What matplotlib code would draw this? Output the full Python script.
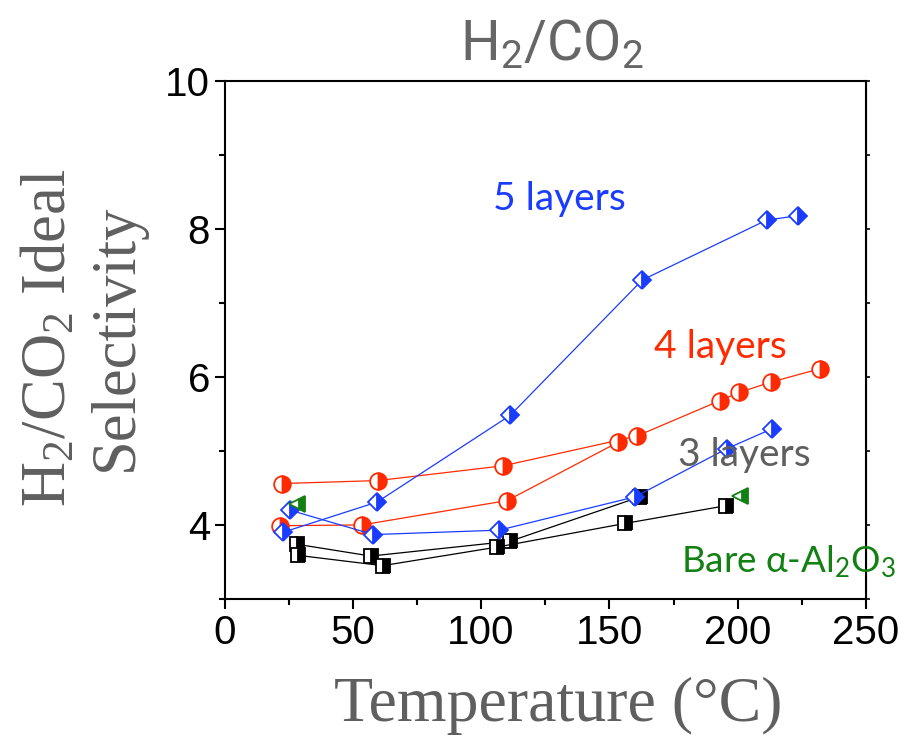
import matplotlib
matplotlib.use("Agg")
import matplotlib.pyplot as plt

plt.rcParams['mathtext.default'] = 'regular'

# 5 layers (blue diamonds), two runs
t5a = [22.7, 59.5, 111.3, 162.8, 211.3, 223.6]
s5a = [3.90, 4.31, 5.48, 7.31, 8.12, 8.18]
t5b = [25.5, 58.0, 107.1, 160.0, 195.7, 213.4]
s5b = [4.20, 3.87, 3.93, 4.38, 5.03, 5.30]

# 4 layers (red circles)
t4a = [22.5, 59.9, 108.7, 160.6, 193.1, 200.6, 212.9, 232.0]
s4a = [4.56, 4.60, 4.80, 5.20, 5.68, 5.79, 5.93, 6.11]
t4b = [21.6, 53.5, 110.2, 153.5]
s4b = [3.99, 4.00, 4.33, 5.12]

# 3 layers (black squares)
t3a = [28.1, 57.0, 111.3, 161.9]
s3a = [3.74, 3.58, 3.78, 4.38]
t3b = [28.5, 61.6, 106.1, 156.0, 195.4]
s3b = [3.59, 3.45, 3.70, 4.02, 4.26]

# bare alumina (green triangles)
t0 = [28.1, 200.9]
s0 = [4.29, 4.39]

blue = '#1a3cff'
red = '#ff2a00'
green = '#128012'
grey = '#5f5f5f'

fig = plt.figure(figsize=(9.13, 7.38), dpi=100)
ax = fig.add_axes([0.2459, 0.1884, 0.7026, 0.7019])

def series(x, y, color, marker, ms, line=True):
    ax.plot(x, y, color=color, lw=0.9 if line else 0, marker=marker, ms=ms,
            fillstyle='right', markerfacecolor=color, markerfacecoloralt='white',
            markeredgecolor=color, markeredgewidth=1.3, clip_on=False)

series(t3a, s3a, 'black', 's', 10)
series(t3b, s3b, 'black', 's', 10)
series(t4a, s4a, red, 'o', 12)
series(t4b, s4b, red, 'o', 12)
series(t5a, s5a, blue, 'D', 9.5)
series(t5b, s5b, blue, 'D', 9.5)
series(t0, s0, green, '<', 11, line=False)

ax.set_xlim(0, 250)
ax.set_ylim(3, 10)
ax.set_xticks([0, 50, 100, 150, 200, 250])
ax.set_xticks([25, 75, 125, 175, 225], minor=True)
ax.set_yticks([4, 6, 8, 10])
ax.set_yticks([3, 5, 7, 9], minor=True)

for s in ax.spines.values():
    s.set_linewidth(1.5)
ax.tick_params(which='major', length=7.5, width=1.5, direction='out', pad=3,
               labelsize=29, labelfontfamily='Liberation Sans')
ax.tick_params(which='minor', length=4.5, width=1.5, direction='out')

rax = ax.secondary_yaxis('right')
rax.set_yticks([3, 4, 5, 6, 7, 8, 9, 10])
rax.tick_params(length=3, width=1.2, labelright=False)

ax.set_xlabel('Temperature (°C)', fontsize=46, family='Liberation Serif', color=grey)
ax.xaxis.set_label_coords(0.52, -0.15)
ax.set_ylabel('H$_2$/CO$_2$ Ideal\nSelectivity', fontsize=45, family='Liberation Serif',
              color=grey, linespacing=1.2)
ax.yaxis.set_label_coords(-0.122, 0.505)

fig.text(0.604, 0.918, 'H$_2$/CO$_2$', fontsize=40, color='#666666', ha='center',
         va='baseline', family=['Roboto', 'DejaVu Sans'])

lab = dict(fontsize=28, family=['Lato', 'DejaVu Sans'], va='baseline')
ax.text(104.6, 8.25, '5 layers', color=blue, **lab)
ax.text(167.4, 6.25, '4 layers', color=red, **lab)
ax.text(176.7, 4.80, '3 layers', color=grey, **lab)
ax.text(178.0, 3.36, 'Bare α-Al$_2$O$_3$', color=green,
        **dict(lab, fontsize=26.5))

fig.savefig('out.png', dpi=100)
